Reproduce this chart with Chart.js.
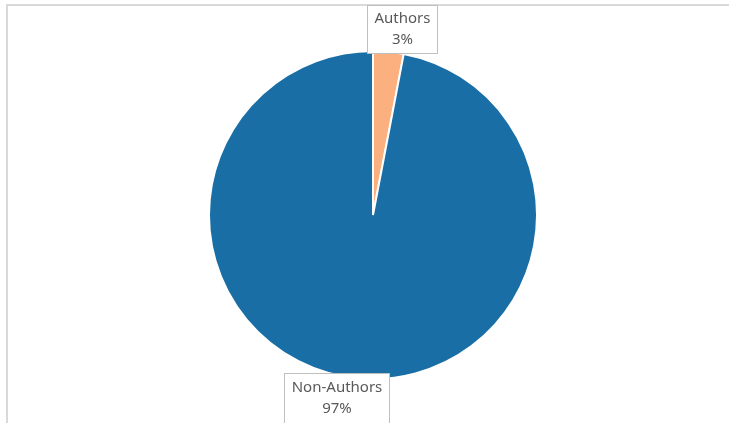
<!DOCTYPE html>
<html>
<head>
<meta charset="utf-8">
<script src="https://cdn.jsdelivr.net/npm/chart.js@4/dist/chart.umd.min.js"></script>
<style>
	html, body { margin: 0; padding: 0; background: #fff; }
	#frame { position: absolute; left: 6px; top: 4px; width: 740px; height: 440px;
		border-left: 2px solid #d9d9d9; border-top: 2px solid #d9d9d9; }
	#wrap { position: absolute; left: 0; top: 0; width: 729px; height: 423px; }
</style>
</head>
<body>
<div id="frame"></div>
<div id="wrap"><canvas id="canvaspie"></canvas></div>
<script>

var categories = ["Authors", "Non-Authors"];
var shares = [3, 97];
var sliceColors = ["#FDB07F", "#1A6EA6"];

// where each label box sits relative to the slice's outer edge
var labelShift = [{ dx: 14, side: 'above' }, { dx: -21, side: 'below' }];

var labelBoxes = {
	id: 'labelBoxes',
	afterDraw: function(chart){
		var ctx = chart.ctx;
		var meta = chart.getDatasetMeta(0);
		ctx.save();
		ctx.font = '15px "Noto Sans", sans-serif';
		ctx.textAlign = 'center';
		ctx.textBaseline = 'middle';
		meta.data.forEach(function(arc, i){
			var mid = (arc.startAngle + arc.endAngle) / 2;
			var ax = arc.x + Math.cos(mid) * arc.outerRadius;
			var ay = arc.y + Math.sin(mid) * arc.outerRadius;
			var line1 = categories[i];
			var line2 = shares[i] + '%';
			var w = Math.round(Math.max(ctx.measureText(line1).width, ctx.measureText(line2).width) + 14);
			var h = 48;
			var cx = ax + labelShift[i].dx;
			var top = labelShift[i].side === 'above' ? ay - h + 1 : ay - 5;
			if (labelShift[i].side === 'below') { h = 52; }
			var left = Math.round(cx - w / 2) + 0.5;
			ctx.fillStyle = '#ffffff';
			ctx.fillRect(left, Math.round(top) + 0.5, w, h);
			ctx.strokeStyle = '#bfbfbf';
			ctx.lineWidth = 1;
			ctx.strokeRect(left, Math.round(top) + 0.5, w, h);
			ctx.fillStyle = '#595959';
			ctx.fillText(line1, left + w / 2, top + 14);
			ctx.fillText(line2, left + w / 2, top + 35.5);
		});
		ctx.restore();
	}
};

var chart_pie_settings = {
	type: 'pie',
	data: {
		labels: categories,
		datasets: [{
			data: shares,
			backgroundColor: sliceColors,
			borderColor: '#ffffff',
			borderWidth: 2
		}]
	},
	options: {
		responsive: true,
		maintainAspectRatio: false,
		animation: false,
		layout: { padding: { left: 17, right: 0, top: 50, bottom: 43 } },
		plugins: {
			legend: { display: false },
			tooltip: { enabled: false }
		}
	},
	plugins: [labelBoxes]
};

var chart_pie = new Chart(document.getElementById('canvaspie'), chart_pie_settings);

</script>
</body>
</html>
